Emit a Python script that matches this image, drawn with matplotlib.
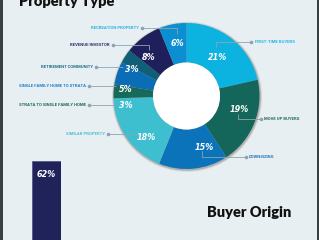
import matplotlib
matplotlib.use("Agg")
from matplotlib import pyplot as plt
from matplotlib.patches import Circle, Rectangle

# property type donut
categories = ["FIRST-TIME BUYERS", "MOVE UP BUYERS", "DOWNSIZING", "SIMILAR PROPERTY",
              "STRATA TO SINGLE FAMILY HOME", "SINGLE FAMILY HOME TO STRATA",
              "RETIREMENT COMMUNITY", "REVENUE INVESTOR", "RECREATION PROPERTY"]
shares = [21, 19, 15, 18, 3, 5, 3, 8, 6]
slice_colors = ["#0db3e0", "#136659", "#0b73b9", "#3ebfcf", "#176a5a",
                "#0b6db5", "#0f5f78", "#1f1f5b", "#0b8fd0"]
label_colors = ["#22b5e5", "#1c6a5e", "#1f7ac0", "#4dc0cf", "#1a6a5a",
                "#1f7fc8", "#1f6d85", "#2a2f6b", "#2cb0e0"]

# buyer origin bars
origin_values = [62]

bg = "#e8eff2"
fig = plt.figure(figsize=(3.19, 2.40), dpi=100)
fig.patch.set_facecolor(bg)

ax = fig.add_axes([0, 0, 1, 1])
ax.set_xlim(0, 319)
ax.set_ylim(240, 0)
ax.set_aspect("equal")
ax.axis("off")

cx, cy, R, r = 186.5, 96, 73, 33.5

# soft shadow under the donut
for k, a in [(2.2, 0.10), (1.4, 0.18), (0.7, 0.25)]:
    ax.add_patch(Circle((cx + 0.5, cy + 0.8), R + k, color="#6b6258", alpha=a, lw=0, zorder=1))

wedges, _ = ax.pie(shares, colors=slice_colors, startangle=-90, counterclock=True,
                   center=(cx, cy), radius=R, frame=True,
                   wedgeprops=dict(width=R - r, edgecolor="none", zorder=2))
ax.add_patch(Circle((cx, cy), r, color="white", lw=0, zorder=3))
ax.set_xlim(0, 319)
ax.set_ylim(240, 0)
ax.axis("off")

# pct label position, leader line path, label text anchor
layout = [
    ((218, 57), [(216, 47), (216, 42), (251, 42)], (255, 42), "left"),
    ((239, 110), [(238, 114), (238, 119), (261, 119)], (264, 119), "left"),
    ((204, 148), [(202, 151), (202, 156.5), (246, 156.5)], (249, 156.5), "left"),
    ((146, 137), [(137, 134), (108, 134)], (105, 134), "right"),
    ((126, 106), [(116, 105), (89, 105)], (86, 105), "right"),
    ((126, 89), [(116, 86), (89, 86)], (86, 86), "right"),
    ((132, 70), [(123, 67), (96, 67)], (93, 67), "right"),
    ((149, 58), [(149, 50), (149, 45), (113, 45)], (110, 45), "right"),
    ((177, 43), [(177, 34), (177, 28), (142, 28)], (139, 28), "right"),
]

for cat, val, lc, (ppos, path, tpos, ha) in zip(categories, shares, label_colors, layout):
    ax.text(ppos[0], ppos[1], f"{val}%", color="white", fontsize=5.8, fontweight="bold",
            fontstyle="italic", ha="center", va="center", zorder=5)
    xs = [p[0] for p in path]
    ys = [p[1] for p in path]
    ax.plot(xs, ys, color="#8fa3b0", lw=0.6, zorder=4, solid_capstyle="butt")
    ax.plot(xs[-1], ys[-1], "o", color="#8fa3b0", ms=1.6, zorder=4)
    ax.text(tpos[0], tpos[1], cat, color=lc, fontsize=3.05, fontweight="bold",
            family=["Liberation Sans Narrow", "Roboto", "DejaVu Sans"], ha=ha, va="center", zorder=4)

ax.text(19, 5.7, "Property Type", fontsize=10.5, fontweight="heavy", family=["Lato", "DejaVu Sans"],
        color="#111111", ha="left", va="baseline")
ax.text(207, 217, "Buyer Origin", fontsize=10.5, fontweight="heavy", family=["Lato", "DejaVu Sans"],
        color="#111111", ha="left", va="baseline")

# frame edges
ax.add_patch(Rectangle((0, 0), 2.5, 240, color="#3a3f45", lw=0, zorder=6))
ax.add_patch(Rectangle((317, 0), 2, 240, color="#3a3f45", lw=0, zorder=6))

# bar axes extends below the figure, bar baseline is off-canvas
bx = fig.add_axes([31.5 / 319, -60 / 240, 29 / 319, 224 / 240])
bx.set_xlim(-0.5, 0.5)
bx.set_ylim(0, 100)
bx.axis("off")
bars = bx.bar(range(len(origin_values)), origin_values, width=1.0, color="#20225a",
              edgecolor="#4a4f80", lw=0.5)
for b, v in zip(bars, origin_values):
    bx.text(b.get_x() + b.get_width() / 2, v - 5.8, f"{v}%", color="white", fontsize=5.8,
            fontweight="bold", fontstyle="italic", ha="center", va="center")

fig.savefig("out.png", dpi=100, facecolor=bg)
